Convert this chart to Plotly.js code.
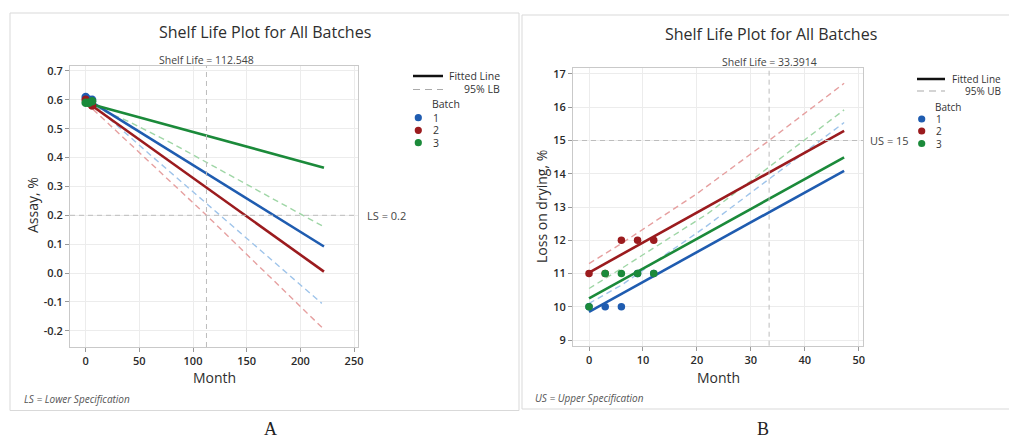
<!DOCTYPE html>
<html><head><meta charset="utf-8">
<script src="https://cdn.plot.ly/plotly-3.0.1.min.js"></script>
<style>html,body{margin:0;padding:0;background:#fff}</style>
</head><body><div id="chart" style="width:1009px;height:440px"></div>
<script>
// ---------- Panel A: Assay ----------
const monthsA = [0, 3, 6];
const assayBatch1 = [0.61, 0.60, 0.60];
const assayBatch2 = [0.60, 0.59, 0.58];
const assayBatch3 = [0.59, 0.59, 0.595];
const fitMonthsA = [0, 222];
const fitA1 = [0.605, 0.092];
const fitA2 = [0.595, 0.005];
const fitA3 = [0.59, 0.365];
const lbA1x = [0, 6, 60, 140, 220];
const lbA1y = [0.60, 0.587, 0.41, 0.153, -0.105];
const lbA2x = [0, 6, 112.548, 222];
const lbA2y = [0.59, 0.57, 0.2, -0.195];
const lbA3x = [0, 6, 40, 80, 222];
const lbA3y = [0.585, 0.578, 0.525, 0.45, 0.16];
const shelfLifeA = 112.548;
const specA = 0.2;
const xTicksA = [0, 50, 100, 150, 200, 250];
const yTicksA = [0.7, 0.6, 0.5, 0.4, 0.3, 0.2, 0.1, 0.0, -0.1, -0.2];
const yTickTextA = ['0.7','0.6','0.5','0.4','0.3','0.2','0.1','0.0','-0.1','-0.2'];

// ---------- Panel B: Loss on drying ----------
const monthsB = [0, 3, 6, 9, 12];
const lodBatch1 = [10, 10, 10, 11, 11];
const lodBatch2 = [11, 11, 12, 12, 12];
const lodBatch3 = [10, 11, 11, 11, 11];
const fitMonthsB = [0, 47.3];
const fitB1 = [9.85, 14.09];
const fitB2 = [11.03, 15.29];
const fitB3 = [10.25, 14.49];
const ubB1x = [0, 6, 21.5, 47.3];
const ubB1y = [10.1, 10.65, 12.39, 15.54];
const ubB2x = [0, 6, 20, 33.3914, 47.3];
const ubB2y = [11.3, 11.9, 13.4, 15.0, 16.72];
const ubB3x = [0, 6, 22, 47.3];
const ubB3y = [10.55, 11.15, 12.8, 15.92];
const shelfLifeB = 33.3914;
const specB = 15;
const xTicksB = [0, 10, 20, 30, 40, 50];
const yTicksB = [9, 10, 11, 12, 13, 14, 15, 16, 17];

const batchNames = ['1', '2', '3'];
const colors = ['#1f5cb0', '#9b1b1e', '#1b8a3a'];
const lightColors = ['#9fc4ea', '#e6a0a0', '#9fd6a6'];

const W = 1009, H = 440;
const px = x => x / W;
const py = y => 1 - y / H;
const FONT = 'Open Sans, Noto Sans, sans-serif';

const traces = [];
function addPanel(xa, ya, lbs, fitX, fits, ptsX, pts, msize) {
  lbs.forEach((lb, i) => traces.push({x: lb[0], y: lb[1], xaxis: xa, yaxis: ya, mode: 'lines', type: 'scatter',
    line: {color: lightColors[i], width: 1.4, dash: '6px,4px'}, hoverinfo: 'skip', showlegend: false}));
  fits.forEach((f, i) => traces.push({x: fitX, y: f, xaxis: xa, yaxis: ya, mode: 'lines', type: 'scatter',
    line: {color: colors[i], width: 2.6}, showlegend: false}));
  pts.forEach((p, i) => traces.push({x: ptsX, y: p, xaxis: xa, yaxis: ya, mode: 'markers', type: 'scatter',
    name: batchNames[i], marker: {color: colors[i], size: msize}, showlegend: false}));
}
addPanel('x', 'y', [[lbA1x, lbA1y], [lbA2x, lbA2y], [lbA3x, lbA3y]], fitMonthsA, [fitA1, fitA2, fitA3],
  monthsA, [assayBatch1, assayBatch2, assayBatch3], 8.5);
addPanel('x2', 'y2', [[ubB1x, ubB1y], [ubB2x, ubB2y], [ubB3x, ubB3y]], fitMonthsB, [fitB1, fitB2, fitB3],
  monthsB, [lodBatch1, lodBatch2, lodBatch3], 7.5);

const axisCommon = {
  showgrid: true, gridcolor: '#ececec', gridwidth: 1, zeroline: false,
  showline: true, mirror: true, linecolor: '#c9c9c9', linewidth: 1,
  ticks: 'outside', ticklen: 4, tickcolor: '#999',
  tickfont: {family: FONT, size: 11, color: '#2a2a2a', weight: 600}
};

const shapes = [
  // panel frames
  {type: 'rect', xref: 'paper', yref: 'paper', x0: px(10), x1: px(519), y0: py(410.5), y1: py(13), line: {color: '#d9d9d9', width: 1}},
  {type: 'rect', xref: 'paper', yref: 'paper', x0: px(522), x1: px(1012), y0: py(409), y1: py(15), line: {color: '#d9d9d9', width: 1}},
  // reference lines
  {type: 'line', xref: 'x', yref: 'y domain', x0: shelfLifeA, x1: shelfLifeA, y0: 0, y1: 1, line: {color: '#bdbdbd', width: 1, dash: '5px,4px'}},
  {type: 'line', xref: 'x domain', yref: 'y', x0: 0, x1: 1, y0: specA, y1: specA, line: {color: '#bdbdbd', width: 1, dash: '5px,4px'}},
  {type: 'line', xref: 'x2', yref: 'y2 domain', x0: shelfLifeB, x1: shelfLifeB, y0: 0, y1: 1, line: {color: '#bdbdbd', width: 1, dash: '5px,4px'}},
  {type: 'line', xref: 'x2 domain', yref: 'y2', x0: 0, x1: 1, y0: specB, y1: specB, line: {color: '#bdbdbd', width: 1, dash: '5px,4px'}},
];

const annotations = [];
function txt(text, x, y, opts) {
  annotations.push(Object.assign({text, xref: 'paper', yref: 'paper', x: px(x), y: py(y), showarrow: false,
    xanchor: 'center', yanchor: 'middle', font: {family: FONT, size: 11, color: '#333'}}, opts || {}));
}
// titles
txt('Shelf Life Plot for All Batches', 265, 32, {font: {family: FONT, size: 16, color: '#2e2e2e', weight: 500}});
txt('Shelf Life Plot for All Batches', 771, 34, {font: {family: FONT, size: 16, color: '#2e2e2e', weight: 500}});
// shelf-life labels
annotations.push({text: 'Shelf Life = ' + shelfLifeA, xref: 'x', x: shelfLifeA, yref: 'paper', y: py(60), showarrow: false,
  xanchor: 'center', yanchor: 'middle', font: {family: FONT, size: 10.5, color: '#444'}});
annotations.push({text: 'Shelf Life = ' + shelfLifeB, xref: 'x2', x: shelfLifeB, yref: 'paper', y: py(62), showarrow: false,
  xanchor: 'center', yanchor: 'middle', font: {family: FONT, size: 10.5, color: '#444'}});
annotations.push({text: 'LS = ' + specA, xref: 'paper', x: px(365), yref: 'y', y: specA, showarrow: false,
  xanchor: 'left', yanchor: 'middle', font: {family: FONT, size: 11, color: '#444'}});
annotations.push({text: 'US = ' + specB, xref: 'paper', x: px(868), yref: 'y2', y: specB, showarrow: false,
  xanchor: 'left', yanchor: 'middle', font: {family: FONT, size: 11, color: '#444'}});
// axis titles
txt('Assay, %', 33, 205, {textangle: -90, font: {family: FONT, size: 14, color: '#2e2e2e', weight: 500}});
txt('Month', 214, 377, {font: {family: FONT, size: 14, color: '#2e2e2e', weight: 500}});
txt('Loss on drying, %', 541, 207, {textangle: -90, font: {family: FONT, size: 14, color: '#2e2e2e', weight: 500}});
txt('Month', 718, 377, {font: {family: FONT, size: 14, color: '#2e2e2e', weight: 500}});
// footnotes
txt('<i>LS = Lower Specification</i>', 22, 399, {xanchor: 'left', font: {family: FONT, size: 10, color: '#555'}});
txt('<i>US = Upper Specification</i>', 533, 398, {xanchor: 'left', font: {family: FONT, size: 10, color: '#555'}});
// panel letters
txt('A', 270, 428.5, {font: {family: 'Liberation Serif, DejaVu Serif, serif', size: 18, color: '#222'}});
txt('B', 763, 428.5, {font: {family: 'Liberation Serif, DejaVu Serif, serif', size: 18, color: '#222'}});

// custom legends
function legend(lx, len, lineY, dashY, textRight, boundLabel, batchY, markerX, numX, rowYs, fs) {
  shapes.push({type: 'line', xref: 'paper', yref: 'paper', x0: px(lx), x1: px(lx + len), y0: py(lineY), y1: py(lineY), line: {color: '#111', width: 2.5}});
  shapes.push({type: 'line', xref: 'paper', yref: 'paper', x0: px(lx), x1: px(lx + len), y0: py(dashY), y1: py(dashY), line: {color: '#aaa', width: 1.2, dash: '7px,5px'}});
  txt('Fitted Line', textRight, lineY, {xanchor: 'right', font: {family: FONT, size: fs, color: '#333'}});
  txt(boundLabel, textRight, dashY, {xanchor: 'right', font: {family: FONT, size: fs, color: '#333'}});
  txt('Batch', numX - 1, batchY, {xanchor: 'left', font: {family: FONT, size: fs, color: '#333'}});
  rowYs.forEach((ry, i) => {
    const r = 3.6;
    shapes.push({type: 'circle', xref: 'paper', yref: 'paper', x0: px(markerX - r), x1: px(markerX + r), y0: py(ry + r), y1: py(ry - r),
      fillcolor: colors[i], line: {color: colors[i], width: 0}});
    txt(batchNames[i], numX, ry, {xanchor: 'left', font: {family: FONT, size: fs, color: '#333'}});
  });
}
legend(413, 30, 76, 89.5, 502, '95% LB', 104, 418.3, 431, [117.7, 130.3, 142.7], 10.5);
legend(917, 28, 79, 91, 1003, '95% UB', 107, 921.7, 934, [119, 131, 143.5], 10);

const layout = {
  width: W, height: H, autosize: false,
  margin: {l: 0, r: 0, t: 0, b: 0, pad: 0},
  paper_bgcolor: '#fff', plot_bgcolor: '#fff',
  showlegend: false,
  xaxis: Object.assign({}, axisCommon, {domain: [px(70), px(358)], range: [-14.6, 253.7], tickvals: xTicksA, anchor: 'y'}),
  yaxis: Object.assign({}, axisCommon, {domain: [py(347), py(66)], range: [-0.256, 0.717], tickvals: yTicksA, ticktext: yTickTextA, anchor: 'x'}),
  xaxis2: Object.assign({}, axisCommon, {domain: [px(573), px(863)], range: [-2.97, 50.8], tickvals: xTicksB, anchor: 'y2'}),
  yaxis2: Object.assign({}, axisCommon, {domain: [py(345.7), py(68)], range: [8.83, 17.18], tickvals: yTicksB, anchor: 'x2'}),
  shapes, annotations
};
Plotly.newPlot('chart', traces, layout, {displayModeBar: false, staticPlot: true});
</script>
</body></html>
